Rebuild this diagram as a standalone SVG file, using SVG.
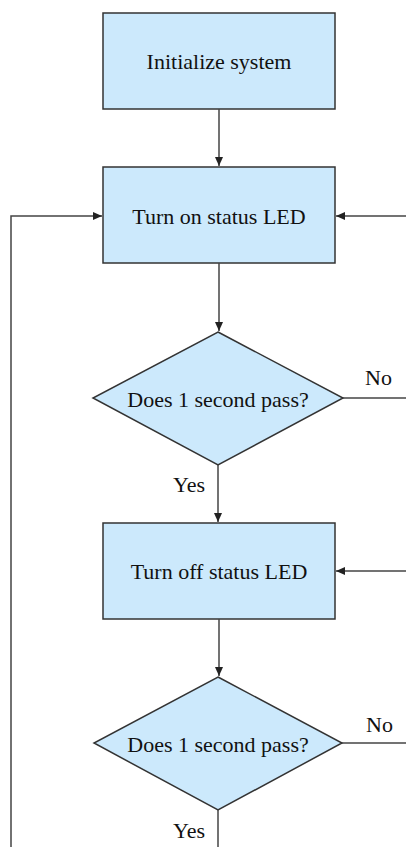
<svg xmlns="http://www.w3.org/2000/svg" width="406" height="847" viewBox="0 0 406 847">
<style>
.box{fill:#cce9fc;stroke:#333;stroke-width:1.5}
text{font-family:'Liberation Serif','Times New Roman',Tinos,'DejaVu Serif',serif;font-size:22px;fill:#111}
.t{text-anchor:middle}
.c{fill:none;stroke:#444;stroke-width:1.5}
</style>
<defs>
<marker id="a" markerWidth="10" markerHeight="10" refX="9" refY="5" orient="auto" markerUnits="userSpaceOnUse">
<path d="M0,1 L9,5 L0,9 Z" fill="#222"/>
</marker>
</defs>
<rect width="406" height="847" fill="#fff"/>
<g id="n1"><rect class="box" x="103" y="13" width="232" height="96"/><text class="t" x="219" y="69">Initialize system</text></g>
<g id="n2"><rect class="box" x="103" y="167" width="232" height="96"/><text class="t" x="219" y="224">Turn on status LED</text></g>
<g id="n3"><polygon class="box" points="218,332 343,398 218,465 93,398"/><text class="t" x="218" y="407">Does 1 second pass?</text></g>
<g id="n4"><rect class="box" x="103" y="523" width="232" height="96"/><text class="t" x="219" y="579">Turn off status LED</text></g>
<g id="n5"><polygon class="box" points="218,677 342,743 218,810 94,743"/><text class="t" x="218" y="752">Does 1 second pass?</text></g>
<g id="connectors">
<path class="c" d="M219,109 V166" marker-end="url(#a)"/>
<path class="c" d="M219,263 V331" marker-end="url(#a)"/>
<path class="c" d="M218,465 V522" marker-end="url(#a)"/>
<path class="c" d="M219,619 V676" marker-end="url(#a)"/>
<path class="c" d="M218,810 V847"/>
<path class="c" d="M343,398 H406"/>
<path class="c" d="M342,743 H406"/>
<path class="c" d="M406,216 H336" marker-end="url(#a)"/>
<path class="c" d="M406,571 H336" marker-end="url(#a)"/>
<path class="c" d="M11,847 V216 H102" marker-end="url(#a)"/>
<text x="365" y="385">No</text>
<text x="366" y="732">No</text>
<text x="173" y="492">Yes</text>
<text x="173" y="838">Yes</text>
</g>
</svg>
